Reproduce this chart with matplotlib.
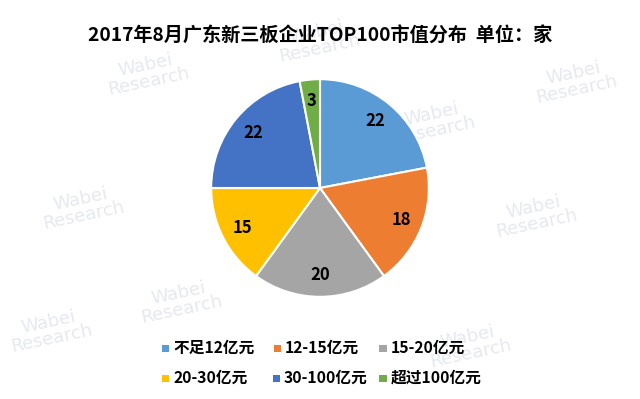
import matplotlib.pyplot as plt

plt.rcParams['font.family'] = ['Noto Sans CJK SC', 'DejaVu Sans']

title = '2017年8月广东新三板企业TOP100市值分布  单位：家'
categories = ['不足12亿元', '12-15亿元', '15-20亿元', '20-30亿元', '30-100亿元', '超过100亿元']
counts = [22, 18, 20, 15, 22, 3]
colors = ['#5B9BD5', '#ED7D31', '#A5A5A5', '#FFC000', '#4472C4', '#70AD47']

fig = plt.figure(figsize=(6.4, 3.99), dpi=100)
fig.patch.set_facecolor('white')

# faint watermark tiles
marks = [(147, 73), (433, 122), (575, 81), (82, 207), (261, 162), (535, 215),
         (180, 301), (359, 252), (469, 345), (50, 330), (318, 40)]
for mx, my in marks:
    fig.text(mx / 640, 1 - my / 399, 'Wabei\nResearch', color='#e6e9f0',
             fontsize=13, rotation=12, ha='center', va='center',
             linespacing=0.9, family='DejaVu Sans', zorder=0)

ax = fig.add_axes([(320 - 111) / 640, (399 - 188 - 111) / 399, 222 / 640, 222 / 399])
ax.set_zorder(2)
wedges, texts = ax.pie(counts, colors=colors, startangle=90, counterclock=False,
                       labels=[str(c) for c in counts], labeldistance=0.8,
                       wedgeprops=dict(edgecolor='white', linewidth=1.5))
for t in texts:
    t.set_ha('center')
    t.set_va('center')
    t.set_fontsize(12)
    t.set_fontweight('bold')
    t.set_color('black')
ax.set_xlim(-1.02, 1.02)
ax.set_ylim(-1.02, 1.02)
ax.set_aspect('equal')
ax.patch.set_alpha(0)

fig.text(0.5, 1 - 36 / 399, title, ha='center', va='center',
         fontsize=13.8, fontweight='bold')

# legend laid out like the reference (two rows of three)
legend_pos = [(165, 348), (277, 348), (383, 348),
              (165, 378), (276, 378), (383, 378)]
for (lx, ly), cat, col in zip(legend_pos, categories, colors):
    fig.patches.append(plt.Rectangle((lx / 640 - 3.5 / 640, 1 - ly / 399 - 3.5 / 399),
                                     7 / 640, 7 / 399, transform=fig.transFigure,
                                     facecolor=col, edgecolor='none'))
    fig.text((lx + 8) / 640, 1 - ly / 399, cat, ha='left', va='center',
             fontsize=11.3, fontweight='bold')

fig.savefig('out.png', dpi=100)
